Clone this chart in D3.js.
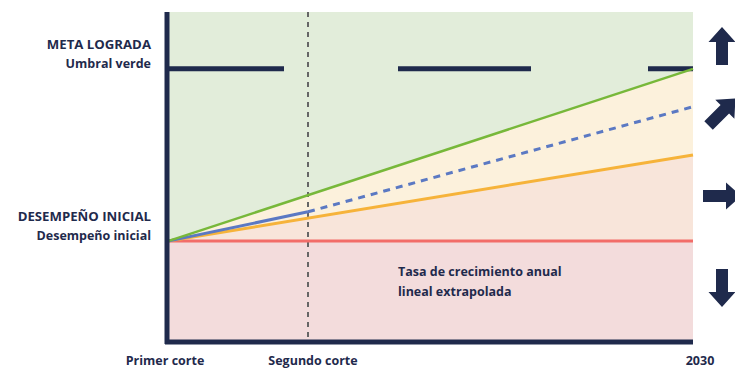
<!DOCTYPE html>
<html>
<head>
<meta charset="utf-8">
<script src="https://d3js.org/d3.v7.min.js"></script>
<style>
  body { margin: 0; background: #fff; }
  text { font-family: "Open Sans", sans-serif; font-weight: 700; fill: #1f2a4c; }
</style>
</head>
<body>
<svg id="svg" width="735" height="370"></svg>
<script>
// cut points along the x axis
var years = [2019, 2022, 2030];
var xLabels = ["Primer corte", "Segundo corte", "2030"];

// index: 0 = initial performance, 100 = green threshold
var greenPath = [0, 100];          // at first cut, 2030
var orangePath = [0, 50];          // at first cut, 2030
var bluePast = [0, 17];            // at first cut, second cut
var blueFuture = [17, 78];         // at second cut, 2030
var baseline = 0;
var threshold = 100;

var yLabels = [
  { v: threshold, a: "META LOGRADA", b: "Umbral verde" },
  { v: baseline, a: "DESEMPEÑO INICIAL", b: "Desempeño inicial" }
];
var arrowDirs = [0, 45, 90, 180];   // up, up-right, right, down
var arrowY = [46, 112, 196, 288];

var navy = "#1f2a4c";
var svg = d3.select("#svg");

var x = d3.scaleLinear().domain(years).range([168, 308, 693]);
var y = d3.scaleLinear().domain([-58, 133]).range([341, 12]);

var x0 = years[0], x1 = years[2];
var yTop = y.domain()[1], yBot = y.domain()[0];

// background bands
var band = d3.area().x(function(d) { return x(d[0]); })
  .y0(function(d) { return y(d[1]); }).y1(function(d) { return y(d[2]); });

svg.append("path").attr("fill", "#e2edda")
  .attr("d", band([[x0, yTop, greenPath[0]], [x1, yTop, greenPath[1]]]));
svg.append("path").attr("fill", "#fcf1dc")
  .attr("d", band([[x0, greenPath[0], orangePath[0]], [x1, greenPath[1], orangePath[1]]]));
svg.append("path").attr("fill", "#f8e5da")
  .attr("d", band([[x0, orangePath[0], baseline], [x1, orangePath[1], baseline]]));
svg.append("path").attr("fill", "#f3dcdc")
  .attr("d", band([[x0, baseline, yBot], [x1, baseline, yBot]]));

// threshold dashes
svg.append("line")
  .attr("x1", x(x0)).attr("x2", x(x1))
  .attr("y1", y(threshold)).attr("y2", y(threshold))
  .attr("stroke", navy).attr("stroke-width", 5)
  .attr("stroke-dasharray", "116 114 133 117 60");

// second cut vertical line
svg.append("line")
  .attr("x1", x(years[1])).attr("x2", x(years[1]))
  .attr("y1", y(yTop)).attr("y2", y(yBot))
  .attr("stroke", "#666").attr("stroke-width", 2)
  .attr("stroke-dasharray", "5 5");

var line = d3.line().x(function(d) { return x(d[0]); }).y(function(d) { return y(d[1]); });

svg.append("path").attr("fill", "none").attr("stroke", "#f26d69").attr("stroke-width", 3)
  .attr("d", line([[x0, baseline], [x1, baseline]]));
svg.append("path").attr("fill", "none").attr("stroke", "#f6b33a").attr("stroke-width", 3)
  .attr("d", line([[x0, orangePath[0]], [x1, orangePath[1]]]));
svg.append("path").attr("fill", "none").attr("stroke", "#5b79c3").attr("stroke-width", 3)
  .attr("stroke-dasharray", "7 6")
  .attr("d", line([[years[1], blueFuture[0]], [x1, blueFuture[1]]]));
svg.append("path").attr("fill", "none").attr("stroke", "#5b79c3").attr("stroke-width", 3)
  .attr("d", line([[x0, bluePast[0]], [years[1], bluePast[1]]]));
svg.append("path").attr("fill", "none").attr("stroke", "#77b83a").attr("stroke-width", 2.5)
  .attr("d", line([[x0, greenPath[0]], [x1, greenPath[1]]]));

// axes
svg.append("line").attr("x1", 167).attr("x2", 167).attr("y1", 12).attr("y2", 344)
  .attr("stroke", navy).attr("stroke-width", 5);
svg.append("line").attr("x1", 165).attr("x2", x(x1)).attr("y1", 342).attr("y2", 342)
  .attr("stroke", navy).attr("stroke-width", 5);

// x labels
svg.selectAll(".xl").data(years).enter().append("text")
  .attr("x", function(d, i) { return x(d) + [-3, 5, 7][i]; })
  .attr("y", 365).attr("text-anchor", "middle").attr("font-size", 12.5)
  .text(function(d, i) { return xLabels[i]; });

// y labels
var yl = svg.selectAll(".yl").data(yLabels).enter().append("g");
yl.append("text").attr("x", 151).attr("y", function(d) { return y(d.v) - 20; })
  .attr("text-anchor", "end").attr("font-size", 13.2).text(function(d) { return d.a; });
yl.append("text").attr("x", 151).attr("y", function(d) { return y(d.v) - 1; })
  .attr("text-anchor", "end").attr("font-size", 12.5).text(function(d) { return d.b; });

// note
svg.append("text").attr("x", 398).attr("y", 276).attr("font-size", 12.5)
  .text("Tasa de crecimiento anual");
svg.append("text").attr("x", 398).attr("y", 296).attr("font-size", 12.5)
  .text("lineal extrapolada");

// arrows
var arrowShape = "M0,-19 L13.5,-4 L6,-4 L6,19 L-6,19 L-6,-4 L-13.5,-4 Z";
svg.selectAll(".arrow").data(arrowDirs).enter().append("path")
  .attr("d", arrowShape).attr("fill", navy)
  .attr("transform", function(d, i) { return "translate(722," + arrowY[i] + ") rotate(" + d + ")"; });
</script>
</body>
</html>
